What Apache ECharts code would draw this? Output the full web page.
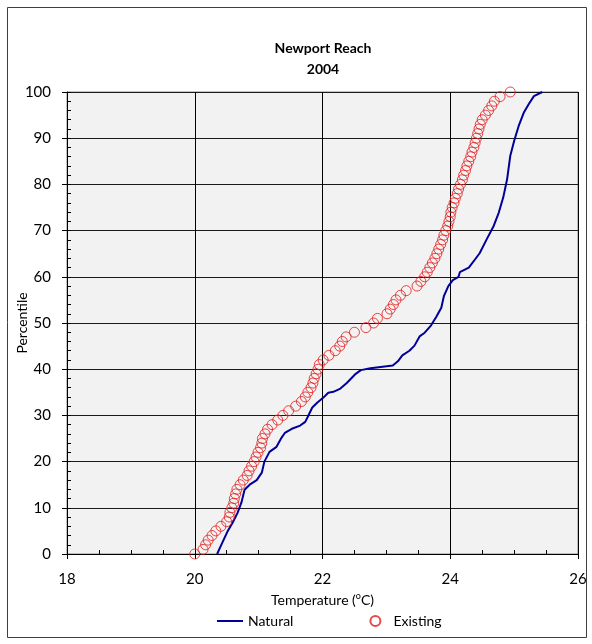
<!DOCTYPE html>
<html>
<head>
<meta charset="utf-8">
<title>Newport Reach 2004</title>
<script src="https://cdn.jsdelivr.net/npm/echarts@6/dist/echarts.min.js"></script>
<style>
    html, body { margin: 0; padding: 0; background: #fff; }
    #chart { width: 592px; height: 644px; }
</style>
</head>
<body>
<div id="chart"></div>
<script>
    // Natural (temperature, percentile)
    var naturalTemp = [20.35, 20.43, 20.51, 20.59, 20.67, 20.73, 20.78, 20.86, 20.97, 21.05,
        21.09, 21.17, 21.28, 21.36, 21.41, 21.52, 21.65, 21.73, 21.77, 21.84,
        21.92, 22.01, 22.09, 22.17, 22.28, 22.38, 22.52, 22.60, 22.75, 22.91,
        23.10, 23.18, 23.25, 23.36, 23.44, 23.52, 23.60, 23.70, 23.78, 23.86,
        23.90, 23.97, 24.04, 24.13, 24.15, 24.29, 24.39, 24.46, 24.57, 24.68,
        24.76, 24.83, 24.89, 24.94, 25.00, 25.07, 25.15, 25.23, 25.31, 25.44];
    var naturalPct = [0, 2.4, 4.8, 6.7, 8.9, 11.1, 13.9, 15, 16, 17.6,
        20, 22.1, 23.2, 25.2, 26.2, 27.1, 27.8, 28.6, 29.7, 31.7,
        32.8, 33.8, 34.9, 35.1, 35.8, 37, 39, 39.8, 40.2, 40.5,
        40.8, 41.7, 43, 44, 45.1, 47.1, 47.9, 49.5, 51.3, 53.3,
        55.8, 58, 59.3, 60, 61, 62, 63.8, 65.1, 68.1, 71,
        73.9, 77.2, 81.1, 86.2, 89.4, 92.6, 95.5, 97.4, 99.1, 100];

    // Existing: one red circle per percentile 0..100
    var existingPct = [];
    for (var p = 0; p <= 100; p++) existingPct.push(p);
    var existingTemp = [20.00, 20.13, 20.17, 20.21, 20.27, 20.33, 20.41, 20.50, 20.54, 20.55,
        20.58, 20.61, 20.62, 20.64, 20.66, 20.71, 20.76, 20.82, 20.85, 20.89,
        20.93, 20.96, 20.99, 21.03, 21.05, 21.06, 21.10, 21.14, 21.21, 21.30,
        21.38, 21.47, 21.58, 21.67, 21.73, 21.77, 21.82, 21.85, 21.87, 21.90,
        21.93, 21.95, 22.01, 22.10, 22.20, 22.27, 22.31, 22.37, 22.50, 22.68,
        22.80, 22.86, 23.01, 23.06, 23.11, 23.15, 23.22, 23.31, 23.48, 23.54,
        23.60, 23.64, 23.68, 23.72, 23.76, 23.79, 23.82, 23.85, 23.88, 23.90,
        23.93, 23.96, 23.98, 24.00, 24.01, 24.03, 24.06, 24.08, 24.11, 24.13,
        24.16, 24.19, 24.21, 24.24, 24.26, 24.29, 24.32, 24.34, 24.37, 24.39,
        24.41, 24.43, 24.45, 24.47, 24.50, 24.55, 24.60, 24.65, 24.69, 24.78,
        24.94];

    var xTicks = [18, 20, 22, 24, 26];
    var yTicks = [0, 10, 20, 30, 40, 50, 60, 70, 80, 90, 100];

    var FONT = 'Lato';

    var naturalData = naturalTemp.map(function (t, i) { return [t, naturalPct[i]]; });
    var existingData = existingTemp.map(function (t, i) { return [t, existingPct[i]]; });

    var myChart = echarts.init(document.getElementById('chart'));
    var chartOption = {
        animation: false,
        backgroundColor: '#fff',
        textStyle: { fontFamily: FONT, color: '#000' },
        graphic: [{
            type: 'rect',
            shape: { x: 7.5, y: 7.5, width: 579, height: 630 },
            style: { fill: 'none', stroke: '#3f3f3f', lineWidth: 1 },
            silent: true
        }],
        title: {
            text: 'Newport Reach\n2004',
            left: 318,
            textAlign: 'center',
            top: 33,
            textStyle: { fontFamily: FONT, fontSize: 14, fontWeight: 'bold', lineHeight: 21, color: '#000' }
        },
        legend: {
            bottom: 11,
            left: 212,
            itemGap: 76,
            itemWidth: 26,
            itemHeight: 10,
            textStyle: { fontFamily: FONT, fontSize: 14, color: '#000' },
            data: [
                { name: 'Natural', icon: 'path://M0,5L26,5L26,7L0,7Z' },
                { name: 'Existing' }
            ]
        },
        grid: {
            left: 67,
            right: 14,
            top: 92,
            bottom: 90,
            outerBoundsMode: 'none',
            containLabel: false,
            show: true,
            backgroundColor: '#f2f2f2',
            borderColor: '#868686',
            borderWidth: 1
        },
        xAxis: [{
            type: 'value',
            min: xTicks[0],
            max: xTicks[xTicks.length - 1],
            interval: 2,
            name: 'Temperature ({sup|o}C)',
            nameLocation: 'middle',
            nameGap: 33,
            nameTextStyle: {
                fontFamily: FONT, fontSize: 14, color: '#000',
                rich: { sup: { fontFamily: FONT, fontSize: 9, verticalAlign: 'top', padding: [0, 0, 8, 0] } }
            },
            axisLine: { show: true, onZero: false, lineStyle: { color: '#000', width: 1 } },
            axisTick: { show: true, inside: false, length: 5, lineStyle: { color: '#000' } },
            axisLabel: { fontFamily: FONT, fontSize: 15, color: '#000', margin: 18 },
            splitLine: { show: true, lineStyle: { color: '#000', width: 1 } }
        }, {
            // inner ticks only: major crossing + minor every 0.5
            type: 'value',
            min: xTicks[0],
            max: xTicks[xTicks.length - 1],
            interval: 2,
            position: 'bottom',
            axisLine: { show: false },
            axisTick: { show: true, inside: true, length: 5, lineStyle: { color: '#000' } },
            minorTick: { show: true, splitNumber: 4, length: 4, lineStyle: { color: '#000' } },
            axisLabel: { show: false },
            splitLine: { show: false }
        }],
        yAxis: [{
            type: 'value',
            min: yTicks[0],
            max: yTicks[yTicks.length - 1],
            interval: 10,
            name: 'Percentile',
            nameLocation: 'middle',
            nameGap: 38,
            nameMoveOverlap: false,
            nameTextStyle: { fontFamily: FONT, fontSize: 14, color: '#000' },
            axisLine: { show: true, onZero: false, lineStyle: { color: '#000', width: 1 } },
            axisTick: { show: true, inside: false, length: 5, lineStyle: { color: '#000' } },
            axisLabel: { fontFamily: FONT, fontSize: 15, color: '#000', margin: 16 },
            splitLine: { show: true, lineStyle: { color: '#1a1a1a', width: 1 } }
        }, {
            type: 'value',
            min: yTicks[0],
            max: yTicks[yTicks.length - 1],
            interval: 10,
            position: 'left',
            axisLine: { show: false },
            axisTick: { show: true, inside: true, length: 4, lineStyle: { color: '#000' } },
            minorTick: { show: true, splitNumber: 5, length: 4, lineStyle: { color: '#000' } },
            axisLabel: { show: false },
            splitLine: { show: false }
        }],
        series: [{
            name: 'Natural',
            type: 'line',
            data: naturalData,
            symbol: 'none',
            smooth: false,
            lineStyle: { color: '#000099', width: 2 },
            itemStyle: { color: '#000099' },
            z: 3
        }, {
            name: 'Existing',
            type: 'scatter',
            data: existingData,
            symbol: 'circle',
            symbolSize: 10,
            itemStyle: { color: 'rgba(0,0,0,0)', borderColor: '#e31a1c', borderWidth: 1 },
            z: 4
        }]
    };
    myChart.setOption(chartOption);
</script>
</body>
</html>
